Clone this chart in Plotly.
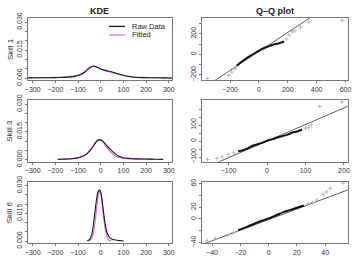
import plotly.graph_objects as go

# ---------------- data ----------------
skills = ["Skill 1", "Skill 3", "Skill 6"]

# KDE curves (x, density)
kde1_x = [-323, -300, -250, -200, -160, -130, -110, -90, -70, -50, -40, -30, -15, 0, 15, 30, 50, 70, 90, 110, 130, 150, 180, 220, 260, 300, 315]
kde1_raw = [0.0002, 0.0002, 0.0002, 0.0003, 0.0004, 0.0007, 0.0011, 0.0018, 0.0033, 0.0055, 0.0063, 0.0065, 0.0058, 0.0049, 0.0043, 0.0039, 0.0033, 0.0025, 0.0018, 0.0012, 0.0008, 0.0005, 0.0003, 0.0002, 0.0002, 0.0001, 0.0001]
kde1_fit = [0.0001, 0.0002, 0.0003, 0.0004, 0.0006, 0.0009, 0.0013, 0.0021, 0.0036, 0.0056, 0.0062, 0.0063, 0.0057, 0.0049, 0.0042, 0.0036, 0.0030, 0.0024, 0.0018, 0.0012, 0.0008, 0.0006, 0.0004, 0.0003, 0.0002, 0.0002, 0.0002]

kde3_x = [-190, -150, -120, -100, -80, -60, -40, -25, -15, -5, 5, 15, 25, 40, 60, 80, 100, 130, 160, 200, 240, 275]
kde3_raw = [0.0002, 0.0003, 0.0006, 0.0010, 0.0018, 0.0032, 0.0060, 0.0088, 0.0102, 0.0107, 0.0103, 0.0092, 0.0078, 0.0058, 0.0035, 0.0018, 0.0010, 0.0006, 0.0004, 0.0003, 0.0002, 0.0001]
kde3_fit_x = [-190, -150, -120, -100, -80, -60, -40, -25, -15, -5, 5, 15, 25, 40, 60, 80, 100, 130, 160, 200, 240]
kde3_fit = [0.0001, 0.0002, 0.0005, 0.0009, 0.0017, 0.0033, 0.0063, 0.0090, 0.0104, 0.0108, 0.0102, 0.0088, 0.0070, 0.0046, 0.0024, 0.0012, 0.0007, 0.0004, 0.0003, 0.0002, 0.0001]

kde6_x = [-60, -50, -40, -30, -20, -15, -10, -5, 0, 5, 10, 15, 20, 30, 40, 50, 60, 70, 80, 90, 100]
kde6_raw = [0.0002, 0.0008, 0.0035, 0.0115, 0.0215, 0.0252, 0.0272, 0.0276, 0.0262, 0.0228, 0.0180, 0.0130, 0.0088, 0.0038, 0.0018, 0.0010, 0.0007, 0.0005, 0.0003, 0.0002, 0.0001]
kde6_fit_x = [-55, -45, -35, -25, -20, -15, -10, -5, 0, 5, 10, 15, 25, 35, 45]
kde6_fit = [0.0001, 0.0006, 0.0032, 0.0106, 0.0161, 0.0216, 0.0260, 0.0275, 0.0260, 0.0216, 0.0161, 0.0106, 0.0032, 0.0006, 0.0001]

# Q-Q plots: dense core points and sparse tail points, plus reference line
qq1_core_x = [-154, -130, -97, -60, -25, 10, 40, 60, 80, 100, 120, 140, 160, 175]
qq1_core_y = [-110, -82, -47, -14, 16, 45, 65, 75, 85, 95, 102, 108, 118, 125]
qq1_tail_x = [-358, -211, -188, -165, 190, 209, 231, 250, 288, 345, 576]
qq1_tail_y = [-235, -204, -172, -141, 150, 188, 219, 230, 266, 313, 329]
qq1_line = (29, 0.923)

qq3_core_x = [-75, -60, -49, -36, -24, -10, 0, 15, 27, 40, 53, 65, 78, 91]
qq3_core_y = [-64, -55, -44, -28, -20, -8, 2, 12, 22, 31, 40, 52, 60, 72]
qq3_tail_x = [-155, -130, -117, -100, -87, 100, 108, 115, 137, 194]
qq3_tail_y = [-116, -108, -100, -84, -74, 80, 86, 100, 216, 246]
qq3_line = (0, 1.036)

qq6_core_x = [-21.5, -15, -10, -5, 0, 5, 11, 15, 20, 25]
qq6_core_y = [-19, -13, -8, -3, 1, 6, 12, 15, 19, 23]
qq6_tail_x = [-43.4, -37.6, -28.9, -25, 28, 31, 34, 38.6, 41, 43.6, 52.4]
qq6_tail_y = [-37, -33, -27, -23, 25.5, 28, 32, 42, 46, 52, 61]
qq6_line = (-1, 0.9)

kde_xticks = [-300, -200, -100, 0, 100, 200, 300]
kde_yticks = [0, 0.005, 0.01, 0.015, 0.02, 0.025, 0.03]
kde_ylabels = ["0.000", "", "", "0.015", "", "", "0.030"]

qq_xticks = [[-200, 0, 200, 400, 600], [-100, 0, 100, 200], [-40, -20, 0, 20, 40]]
qq_yticks = [[-200, -100, 0, 100, 200, 300], [-100, -50, 0, 50, 100, 150, 200], [-40, -20, 0, 20, 40, 60]]
qq_ylabels = [["−200", "", "0", "", "200", ""], ["−100", "", "0", "", "100", "", ""], ["−40", "", "0", "20", "", "60"]]

# ---------------- figure ----------------
RAW_C = "#1a1a1a"
FIT_C = "#e070e6"
W, H = 357, 260
FONT = "Liberation Sans, Arial, sans-serif"

rows_px = [(12.5, 77.7), (98.3, 162.7), (183.3, 247.8)]
left_px = (25, 172.6)
right_px = (202.7, 351.7)

kde_xrange = [-323, 315]
kde_yrange = [-0.0012, 0.0322]
qq_xranges = [[-397, 616], [-170, 210], [-47.3, 56]]
qq_yranges = [[-253, 354], [-130, 256], [-41.3, 63.6]]

fig = go.Figure()

kde_sets = [
    (kde1_x, kde1_raw, kde1_x, kde1_fit),
    (kde3_x, kde3_raw, kde3_fit_x, kde3_fit),
    (kde6_x, kde6_raw, kde6_fit_x, kde6_fit),
]
qq_sets = [
    (qq1_core_x, qq1_core_y, qq1_tail_x, qq1_tail_y, qq1_line),
    (qq3_core_x, qq3_core_y, qq3_tail_x, qq3_tail_y, qq3_line),
    (qq6_core_x, qq6_core_y, qq6_tail_x, qq6_tail_y, qq6_line),
]

axis_common = dict(
    showline=True, mirror=True, linecolor="#777", linewidth=1,
    ticks="outside", ticklen=2, tickcolor="#777", tickwidth=1,
    tickfont=dict(family=FONT, size=7, color="#333"),
    showgrid=False, zeroline=False,
)

layout = dict(
    width=W, height=H, margin=dict(l=0, r=0, t=0, b=0),
    paper_bgcolor="white", plot_bgcolor="white", showlegend=False,
    font=dict(family=FONT),
)

annotations = []
shapes = []

for i in range(3):
    top, bot = rows_px[i]
    ydom = [1 - bot / H, 1 - top / H]
    ka = 2 * i + 1
    qa = 2 * i + 2
    kx = "x" if ka == 1 else f"x{ka}"
    ky = "y" if ka == 1 else f"y{ka}"
    qx = f"x{qa}"
    qy = f"y{qa}"

    rx, ry, fx, fy = kde_sets[i]
    fig.add_trace(go.Scatter(x=fx, y=fy, mode="lines", line=dict(color=FIT_C, width=1.3, shape="spline"),
                             xaxis=kx, yaxis=ky, name="Fitted"))
    fig.add_trace(go.Scatter(x=rx, y=ry, mode="lines", line=dict(color=RAW_C, width=1.1, shape="spline"),
                             xaxis=kx, yaxis=ky, name="Raw Data"))

    cx, cy, tx, ty, (b0, b1) = qq_sets[i]
    xr = qq_xranges[i]
    fig.add_trace(go.Scatter(x=[xr[0], xr[1]], y=[b0 + b1 * xr[0], b0 + b1 * xr[1]], mode="lines",
                             line=dict(color="#333", width=0.8), xaxis=qx, yaxis=qy))
    fig.add_trace(go.Scatter(x=tx, y=ty, mode="markers",
                             marker=dict(symbol="cross-thin", size=3, line=dict(color="#aaa", width=0.8)),
                             xaxis=qx, yaxis=qy))
    fig.add_trace(go.Scatter(x=cx, y=cy, mode="lines", line=dict(color="#111", width=2, shape="spline"),
                             xaxis=qx, yaxis=qy))

    kxn = "xaxis" if ka == 1 else f"xaxis{ka}"
    kyn = "yaxis" if ka == 1 else f"yaxis{ka}"
    layout[kxn] = dict(axis_common, domain=[left_px[0] / W, left_px[1] / W], range=kde_xrange,
                       anchor=ky, tickvals=kde_xticks)
    layout[kyn] = dict(axis_common, domain=ydom, range=kde_yrange, anchor=kx,
                       tickvals=kde_yticks, ticktext=kde_ylabels, tickangle=-90)
    layout[f"xaxis{qa}"] = dict(axis_common, domain=[right_px[0] / W, right_px[1] / W], range=qq_xranges[i],
                                anchor=qy, tickvals=qq_xticks[i])
    layout[f"yaxis{qa}"] = dict(axis_common, domain=ydom, range=qq_yranges[i], anchor=qx,
                                tickvals=qq_yticks[i], ticktext=qq_ylabels[i], tickangle=-90)

    annotations.append(dict(text=skills[i], xref="paper", yref="paper", x=7 / W, y=1 - (top + bot) / 2 / H,
                            showarrow=False, textangle=-90, font=dict(family=FONT, size=8, color="#333"),
                            xanchor="center", yanchor="middle"))

annotations.append(dict(text="<b>KDE</b>", xref="paper", yref="paper", x=(left_px[0] + left_px[1]) / 2 / W,
                        y=1 - 5.5 / H, showarrow=False, font=dict(family=FONT, size=9, color="#222"),
                        xanchor="center", yanchor="middle"))
annotations.append(dict(text="<b>Q–Q plot</b>", xref="paper", yref="paper", x=(right_px[0] + right_px[1]) / 2 / W,
                        y=1 - 5.5 / H, showarrow=False, font=dict(family=FONT, size=9, color="#222"),
                        xanchor="center", yanchor="middle"))

# legend (top-right of first KDE panel)
leg_items = [("Raw Data", RAW_C, 21.3), ("Fitted", FIT_C, 30.2)]
for label, col, ypx in leg_items:
    shapes.append(dict(type="line", xref="paper", yref="paper", x0=108 / W, x1=124.5 / W,
                       y0=1 - ypx / H, y1=1 - ypx / H, line=dict(color=col, width=1.3)))
    annotations.append(dict(text=label, xref="paper", yref="paper", x=131 / W, y=1 - ypx / H,
                            showarrow=False, xanchor="left", yanchor="middle",
                            font=dict(family=FONT, size=7.5, color="#222"),
                            borderpad=0))

layout["annotations"] = annotations
layout["shapes"] = shapes
fig.update_layout(**layout)
fig.write_html("out.html")
